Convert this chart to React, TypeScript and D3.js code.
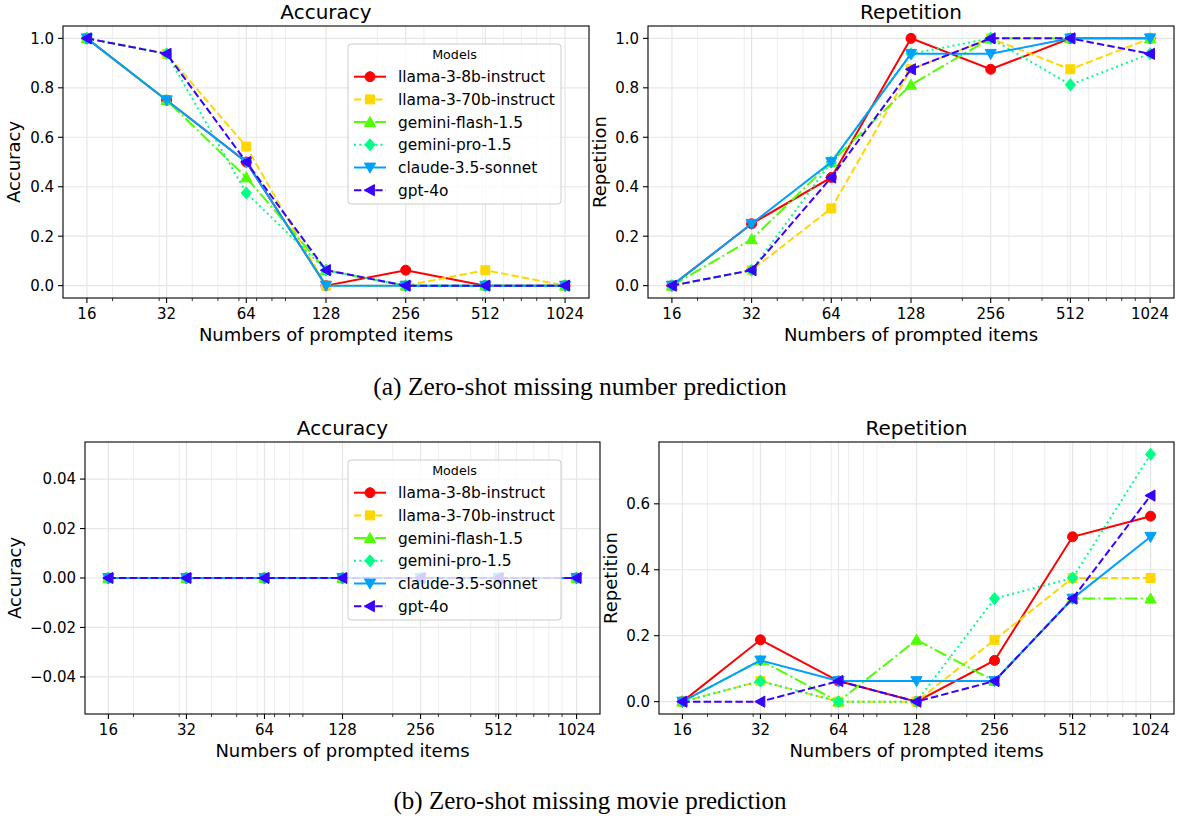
import React from 'react';
import * as d3 from 'd3';

// ---------- data ----------
const itemCounts = [16, 32, 64, 128, 256, 512, 1024];
const xTickLabels = ['16', '32', '64', '128', '256', '512', '1024'];
const minorTickValues = [20, 30, 40, 50, 60, 70, 80, 90, 200, 300, 400, 500, 600, 700, 800, 900];

const modelNames = [
  'llama-3-8b-instruct',
  'llama-3-70b-instruct',
  'gemini-flash-1.5',
  'gemini-pro-1.5',
  'claude-3.5-sonnet',
  'gpt-4o',
];
const modelColors = ['#ff0000', '#ffd700', '#50ff00', '#00ff87', '#00a0ff', '#3800ff'];
const modelDashes = ['', '7.4 3.2', '12.8 3.2 2 3.2', '2 3.3', '', '7.4 3.2'];
const modelMarkers = ['circle', 'square', 'triUp', 'diamond', 'triDown', 'triLeft'];

// (a) zero-shot missing number prediction
const numberAccuracy = [
  [1.0, 0.75, 0.5, 0.0, 0.0625, 0.0, 0.0],
  [1.0, 0.9375, 0.5625, 0.0, 0.0, 0.0625, 0.0],
  [1.0, 0.75, 0.4375, 0.0625, 0.0, 0.0, 0.0],
  [1.0, 0.9375, 0.375, 0.0625, 0.0, 0.0, 0.0],
  [1.0, 0.75, 0.5, 0.0, 0.0, 0.0, 0.0],
  [1.0, 0.9375, 0.5, 0.0625, 0.0, 0.0, 0.0],
];
const numberRepetition = [
  [0.0, 0.25, 0.4375, 1.0, 0.875, 1.0, 1.0],
  [0.0, 0.0625, 0.3125, 0.875, 1.0, 0.875, 1.0],
  [0.0, 0.1875, 0.5, 0.8125, 1.0, 1.0, 1.0],
  [0.0, 0.0625, 0.5, 0.9375, 1.0, 0.8125, 0.9375],
  [0.0, 0.25, 0.5, 0.9375, 0.9375, 1.0, 1.0],
  [0.0, 0.0625, 0.4375, 0.875, 1.0, 1.0, 0.9375],
];
// (b) zero-shot missing movie prediction
const movieAccuracy = [
  [0, 0, 0, 0, 0, 0, 0],
  [0, 0, 0, 0, 0, 0, 0],
  [0, 0, 0, 0, 0, 0, 0],
  [0, 0, 0, 0, 0, 0, 0],
  [0, 0, 0, 0, 0, 0, 0],
  [0, 0, 0, 0, 0, 0, 0],
];
const movieRepetition = [
  [0.0, 0.1875, 0.0625, 0.0, 0.125, 0.5, 0.5625],
  [0.0, 0.0625, 0.0, 0.0, 0.1875, 0.375, 0.375],
  [0.0, 0.125, 0.0, 0.1875, 0.0625, 0.3125, 0.3125],
  [0.0, 0.0625, 0.0, 0.0, 0.3125, 0.375, 0.75],
  [0.0, 0.125, 0.0625, 0.0625, 0.0625, 0.3125, 0.5],
  [0.0, 0.0, 0.0625, 0.0, 0.0625, 0.3125, 0.625],
];

const ticksUnit = [0, 0.2, 0.4, 0.6, 0.8, 1.0];
const ticksSmall = [-0.04, -0.02, 0, 0.02, 0.04];
const ticksMovieRep = [0, 0.2, 0.4, 0.6];

const captionA = '(a) Zero-shot missing number prediction';
const captionB = '(b) Zero-shot missing movie prediction';

// ---------- drawing helpers ----------
const FONT = 'DejaVu Sans, Verdana, sans-serif';
const SERIF = 'Liberation Serif, Times New Roman, serif';

function markerPath(shape: string, cx: number, cy: number): string {
  const r = 5;
  switch (shape) {
    case 'circle':
      return `M${cx - r},${cy} a${r},${r} 0 1,0 ${2 * r},0 a${r},${r} 0 1,0 ${-2 * r},0 Z`;
    case 'square': {
      const s = 4.5;
      return `M${cx - s},${cy - s} L${cx + s},${cy - s} L${cx + s},${cy + s} L${cx - s},${cy + s} Z`;
    }
    case 'triUp':
      return `M${cx},${cy - r - 0.6} L${cx + r + 0.6},${cy + r - 0.6} L${cx - r - 0.6},${cy + r - 0.6} Z`;
    case 'triDown':
      return `M${cx},${cy + r + 0.6} L${cx + r + 0.6},${cy - r + 0.6} L${cx - r - 0.6},${cy - r + 0.6} Z`;
    case 'triLeft':
      return `M${cx - r - 0.6},${cy} L${cx + r - 0.6},${cy - r - 0.6} L${cx + r - 0.6},${cy + r + 0.6} Z`;
    case 'diamond': {
      const d = 6;
      return `M${cx},${cy - d} L${cx + d * 0.85},${cy} L${cx},${cy + d} L${cx - d * 0.85},${cy} Z`;
    }
  }
  return '';
}

type PanelProps = {
  left: number;
  top: number;
  width: number;
  height: number;
  yDomain: [number, number];
  yTicks: number[];
  yFormat: (v: number) => string;
  title: string;
  ylabel: string;
  ylabelX: number;
  values: number[][];
  legend?: { x: number; y: number } | null;
};

function Legend({ x, y }: { x: number; y: number }) {
  const w = 213;
  const h = 160;
  const rowH = 22.7;
  return (
    <g>
      <rect x={x} y={y} width={w} height={h} rx={3} ry={3} fill="#ffffff" fillOpacity={0.8} stroke="#cccccc" strokeWidth={1} />
      <text x={x + w / 2} y={y + 11} dy="0.35em" textAnchor="middle" fontSize={12.7} fontFamily={FONT} fill="#000">
        Models
      </text>
      {modelNames.map((name, i) => {
        const cy = y + 32.7 + i * rowH;
        return (
          <g key={name}>
            <line x1={x + 6} x2={x + 38} y1={cy} y2={cy} stroke={modelColors[i]} strokeWidth={2} strokeDasharray={modelDashes[i]} />
            <path d={markerPath(modelMarkers[i], x + 22, cy)} fill={modelColors[i]} stroke={modelColors[i]} strokeWidth={1} />
            <text x={x + 50} y={cy} dy="0.36em" fontSize={15.4} fontFamily={FONT} fill="#000">
              {name}
            </text>
          </g>
        );
      })}
    </g>
  );
}

function Panel(p: PanelProps) {
  const { left, top, width, height } = p;
  const bottom = top + height;
  const x = d3
    .scaleLog()
    .base(2)
    .domain([16 / Math.pow(2, 0.3), 1024 * Math.pow(2, 0.3)])
    .range([left, left + width]);
  const y = d3.scaleLinear().domain(p.yDomain).range([bottom, top]);
  const line = d3
    .line<number>()
    .x((_, i) => x(itemCounts[i]))
    .y((d) => y(d));

  return (
    <g>
      {/* grid */}
      {minorTickValues.map((v) => (
        <line key={'mg' + v} x1={x(v)} x2={x(v)} y1={top} y2={bottom} stroke="#eeeeee" strokeWidth={1} />
      ))}
      {itemCounts.map((v) => (
        <line key={'gx' + v} x1={x(v)} x2={x(v)} y1={top} y2={bottom} stroke="#e6e6e6" strokeWidth={1.2} />
      ))}
      {p.yTicks.map((v) => (
        <line key={'gy' + v} x1={left} x2={left + width} y1={y(v)} y2={y(v)} stroke="#e6e6e6" strokeWidth={1.2} />
      ))}

      {/* series */}
      {p.values.map((vals, s) => (
        <g key={'s' + s}>
          <path d={line(vals) || ''} fill="none" stroke={modelColors[s]} strokeWidth={2} strokeDasharray={modelDashes[s]} />
          {vals.map((v, i) => (
            <path
              key={i}
              d={markerPath(modelMarkers[s], x(itemCounts[i]), y(v))}
              fill={modelColors[s]}
              stroke={modelColors[s]}
              strokeWidth={1}
            />
          ))}
        </g>
      ))}

      {/* spines */}
      <rect x={left} y={top} width={width} height={height} fill="none" stroke="#000" strokeWidth={1.1} />

      {/* x ticks */}
      {minorTickValues.map((v) => (
        <line key={'mt' + v} x1={x(v)} x2={x(v)} y1={bottom} y2={bottom + 3} stroke="#000" strokeWidth={0.8} />
      ))}
      {itemCounts.map((v, i) => (
        <g key={'xt' + v}>
          <line x1={x(v)} x2={x(v)} y1={bottom} y2={bottom + 5} stroke="#000" strokeWidth={1.1} />
          <text x={x(v)} y={bottom + 21} textAnchor="middle" fontSize={15} fontFamily={FONT} fill="#000">
            {xTickLabels[i]}
          </text>
        </g>
      ))}
      {/* y ticks */}
      {p.yTicks.map((v) => (
        <g key={'yt' + v}>
          <line x1={left - 5} x2={left} y1={y(v)} y2={y(v)} stroke="#000" strokeWidth={1.1} />
          <text x={left - 9} y={y(v)} dy="0.36em" textAnchor="end" fontSize={15} fontFamily={FONT} fill="#000">
            {p.yFormat(v)}
          </text>
        </g>
      ))}

      {/* labels */}
      <text x={left + width / 2} y={top - 7} textAnchor="middle" fontSize={20} fontFamily={FONT} fill="#000">
        {p.title}
      </text>
      <text x={left + width / 2} y={bottom + 43} textAnchor="middle" fontSize={18} fontFamily={FONT} fill="#000">
        Numbers of prompted items
      </text>
      <text
        transform={`translate(${p.ylabelX},${top + height / 2}) rotate(-90)`}
        dy="0.35em"
        textAnchor="middle"
        fontSize={18}
        fontFamily={FONT}
        fill="#000"
      >
        {p.ylabel}
      </text>

      {p.legend ? <Legend x={p.legend.x} y={p.legend.y} /> : null}
    </g>
  );
}

export default function App() {
  const f1 = d3.format('.1f');
  const f2 = d3.format('.2f');
  return (
    <svg
      width={1178}
      height={820}
      viewBox="0 0 1178 820"
      style={{ position: 'absolute', left: 0, top: 0, background: '#fff' }}
    >
      <rect x={0} y={0} width={1178} height={820} fill="#fff" />
      <Panel
        left={63}
        top={26}
        width={526}
        height={272}
        yDomain={[-0.05, 1.05]}
        yTicks={ticksUnit}
        yFormat={f1}
        title="Accuracy"
        ylabel="Accuracy"
        ylabelX={14}
        values={numberAccuracy}
        legend={{ x: 348, y: 44 }}
      />
      <Panel
        left={648}
        top={26}
        width={526}
        height={272}
        yDomain={[-0.05, 1.05]}
        yTicks={ticksUnit}
        yFormat={f1}
        title="Repetition"
        ylabel="Repetition"
        ylabelX={600}
        values={numberRepetition}
        legend={null}
      />
      <text x={580} y={395} textAnchor="middle" fontSize={25.5} fontFamily={SERIF} fill="#000">
        {captionA}
      </text>
      <Panel
        left={85}
        top={442}
        width={515}
        height={272}
        yDomain={[-0.055, 0.055]}
        yTicks={ticksSmall}
        yFormat={f2}
        title="Accuracy"
        ylabel="Accuracy"
        ylabelX={15}
        values={movieAccuracy}
        legend={{ x: 348, y: 460 }}
      />
      <Panel
        left={659}
        top={442}
        width={515}
        height={272}
        yDomain={[-0.0375, 0.7875]}
        yTicks={ticksMovieRep}
        yFormat={f1}
        title="Repetition"
        ylabel="Repetition"
        ylabelX={611}
        values={movieRepetition}
        legend={null}
      />
      <text x={590} y={809} textAnchor="middle" fontSize={25} fontFamily={SERIF} fill="#000">
        {captionB}
      </text>
    </svg>
  );
}
